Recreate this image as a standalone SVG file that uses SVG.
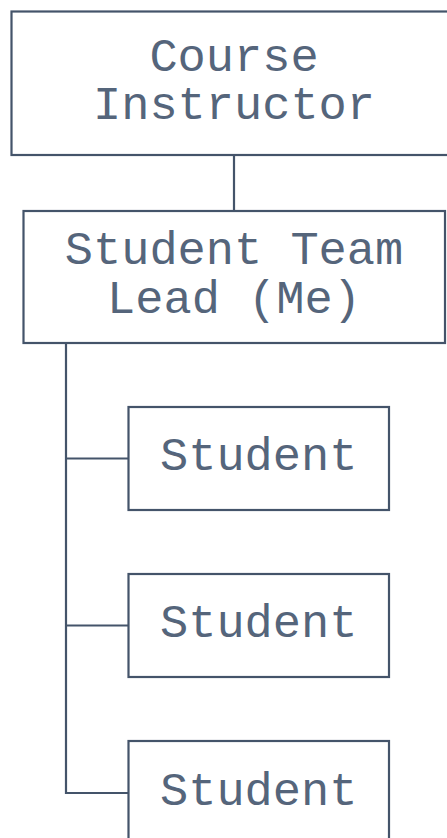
<svg xmlns="http://www.w3.org/2000/svg" width="447" height="838" viewBox="0 0 447 838">
<style>
.box{fill:#ffffff;stroke:#44546a;stroke-width:2.2}
.lbl{font-family:"Liberation Mono","Courier New",monospace;font-size:47px;fill:#55657b;text-anchor:middle}
.con{fill:none;stroke:#44546a;stroke-width:2.2}
</style>
<rect width="447" height="838" fill="#ffffff"/>
<g id="connectors">
<line class="con" x1="234" y1="155" x2="234" y2="211"/>
<polyline class="con" points="66,343 66,793 128,793"/>
<line class="con" x1="66" y1="458.5" x2="128" y2="458.5"/>
<line class="con" x1="66" y1="625.5" x2="128" y2="625.5"/>
</g>
<g id="instructor">
<rect class="box" x="11.5" y="11.5" width="447" height="143.5"/>
<text class="lbl" x="234" y="71">Course</text>
<text class="lbl" x="234" y="119">Instructor</text>
</g>
<g id="lead">
<rect class="box" x="23.5" y="211" width="421.5" height="132"/>
<text class="lbl" x="234" y="264">Student Team</text>
<text class="lbl" x="234" y="313">Lead (Me)</text>
</g>
<g id="student1">
<rect class="box" x="128.5" y="407" width="260.5" height="103"/>
<text class="lbl" x="258.7" y="470">Student</text>
</g>
<g id="student2">
<rect class="box" x="128.5" y="574" width="260.5" height="103"/>
<text class="lbl" x="258.7" y="637">Student</text>
</g>
<g id="student3">
<rect class="box" x="128.5" y="741" width="260.5" height="103"/>
<text class="lbl" x="258.7" y="805">Student</text>
</g>
</svg>
